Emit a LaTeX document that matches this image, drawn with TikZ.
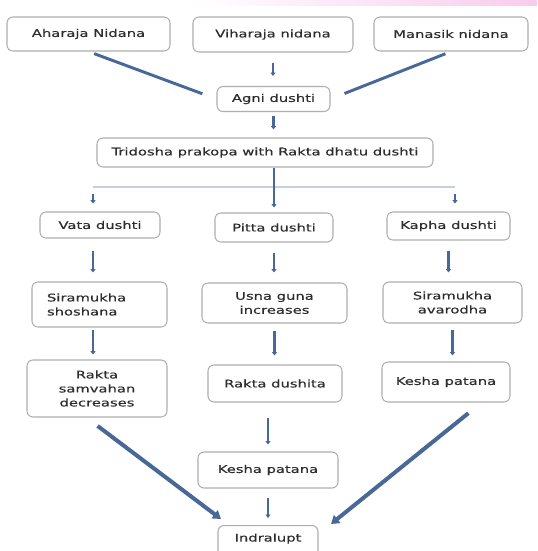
\documentclass[tikz,border=0pt]{standalone}
\usepackage{fontspec}
\newfontfamily\boxfont{DejaVu Sans}[FakeStretch=1.4,FakeBold=0.4]
\usetikzlibrary{arrows.meta,calc}
\definecolor{linkblue}{RGB}{72,104,152}
\definecolor{boxgray}{RGB}{175,175,175}
\definecolor{txtgray}{RGB}{45,45,45}
\definecolor{buscol}{RGB}{200,208,220}
\definecolor{peach}{RGB}{253,228,196}
\definecolor{pinkish}{RGB}{248,204,236}
\begin{document}
\begin{tikzpicture}[x=0.75pt,y=-0.75pt,
  box/.style={draw=boxgray, line width=0.8pt, rounded corners=4.5pt, fill=white,
    font=\boxfont\fontsize{7.9pt}{10.5pt}\selectfont, text=txtgray, align=center, inner sep=0pt},
  arr/.style={draw=linkblue, line width=2pt, -{Triangle[length=2.6pt,width=3.8pt]}},
  bigarr/.style={draw=linkblue, line width=3pt, -{Triangle[length=6pt,width=7.5pt]}},
  diag/.style={draw=linkblue, line width=2.2pt},
  bus/.style={draw=buscol, line width=1pt},
]
\clip (0,0) rectangle (537,551);
\fill[white] (0,0) rectangle (537,551);
\shade[left color=white, middle color=peach, right color=pinkish] (190,0) rectangle (537,5);

% nodes
\node[box, minimum width=122.25pt, minimum height=25.5pt] (aha) at (88.5,34) {Aharaja Nidana};
\node[box, minimum width=120pt, minimum height=26.25pt] (vih) at (273,34.5) {Viharaja nidana};
\node[box, minimum width=115.5pt, minimum height=25.5pt] (man) at (451,34) {Manasik nidana};
\node[box, minimum width=84.75pt, minimum height=18.75pt] (agni) at (273.5,99) {Agni dushti};
\node[box, minimum width=252pt, minimum height=21.75pt] (tri) at (265,152.5) {Tridosha prakopa with Rakta dhatu dushti};
\node[box, minimum width=90pt, minimum height=19.5pt] (vata) at (100,225) {Vata dushti};
\node[box, minimum width=88.5pt, minimum height=21.75pt] (pitta) at (274,227.5) {Pitta dushti};
\node[box, minimum width=92.25pt, minimum height=21pt] (kapha) at (448.5,226) {Kapha dushti};
\node[box, align=left, text width=78.75pt, inner xsep=11.25pt, minimum width=101.25pt, minimum height=33.75pt] (sira1) at (99.5,304.5) {Siramukha\\shoshana};
\node[box, minimum width=108.75pt, minimum height=30pt] (usna) at (274.5,303) {Usna guna\\increases};
\node[box, minimum width=104.25pt, minimum height=30.75pt] (sira2) at (452.5,302.5) {Siramukha\\avarodha};
\node[box, minimum width=105pt, minimum height=42.75pt] (rakta1) at (97,388.5) {Rakta\\samvahan\\decreases};
\node[box, minimum width=100.5pt, minimum height=27.75pt] (rakta2) at (275,383.5) {Rakta dushita};
\node[box, minimum width=96pt, minimum height=30pt] (kesha1) at (446,382) {Kesha patana};
\node[box, minimum width=105pt, minimum height=27pt] (kesha2) at (268,470) {Kesha patana};
\node[box, anchor=north, minimum width=75pt, inner ysep=3.75pt, text height=8.25pt, text depth=15pt] (indra) at (268,525) {Indralupt};

\coordinate (busL) at (93,187);
\coordinate (busR) at (455,187);
\coordinate (iL) at (221,519);
\coordinate (iR) at (331,524);

% connectors
\draw[diag, shorten <=4.5pt, shorten >=11.25pt] (aha.south) -- (agni.west);
\draw[diag, shorten <=4.5pt, shorten >=11.25pt] (man.south) -- (agni.east);
\draw[arr, shorten <=7.5pt, shorten >=7.5pt] (vih.south) -- (vih.south |- agni.north);
\draw[arr, shorten <=3pt, shorten >=6pt] (agni.south) -- (agni.south |- tri.north);
\draw[bus] (busL) -- (busR);
\draw[arr, shorten >=3.75pt] (pitta.north |- tri.south) -- (pitta.north);
\draw[arr, shorten <=5.5pt, shorten >=6pt] (busL) -- (busL |- vata.north);
\draw[arr, shorten <=5.5pt, shorten >=6pt] (busR) -- (busR |- kapha.north);
\draw[arr, shorten <=9pt, shorten >=6.75pt] (busL |- vata.south) -- (busL |- sira1.north);
\draw[arr, shorten <=7.5pt, shorten >=7.5pt] (pitta.south) -- (pitta.south |- usna.north);
\draw[arr, shorten <=7.5pt, shorten >=6.75pt] (kapha.south) -- (kapha.south |- sira2.north);
\draw[arr, shorten <=1.5pt, shorten >=3.75pt] (busL |- sira1.south) -- (busL |- rakta1.north);
\draw[arr, shorten <=5.25pt, shorten >=6.75pt] (usna.south) -- (usna.south |- rakta2.north);
\draw[arr, shorten <=4.5pt, shorten >=4.5pt] (sira2.south) -- (sira2.south |- kesha1.north);
\draw[arr, shorten <=11.25pt, shorten >=5.25pt] (kesha2.north |- rakta2.south) -- (kesha2.north);
\draw[arr, shorten <=6.75pt, shorten >=5.25pt] (kesha2.south) -- (indra.north);
\draw[bigarr, shorten <=10.5pt] (rakta1.250) -- (iL);
\draw[bigarr, shorten <=12.75pt] (kesha1.-30) -- (iR);
\end{tikzpicture}
\end{document}
